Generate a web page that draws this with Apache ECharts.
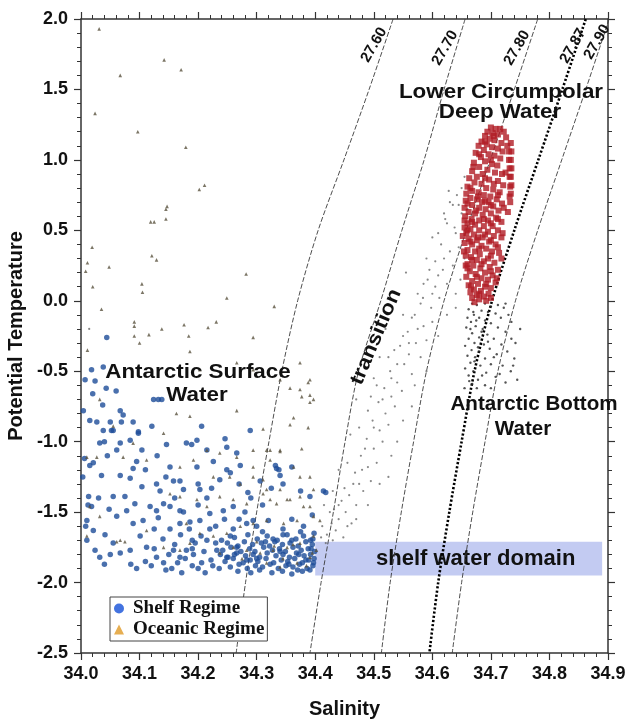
<!DOCTYPE html>
<html>
<head>
<meta charset="utf-8">
<script src="https://cdn.jsdelivr.net/npm/echarts@6/dist/echarts.min.js"></script>
<style>
html,body{margin:0;padding:0;background:#fff;}
#chart{width:627px;height:719px;}
</style>
</head>
<body>
<div id="chart"></div>
<script>
// ---------- data ----------
const xTicks = [34.0, 34.9, 0.1];          // min, max, step (salinity)
const yTicks = [-2.5, 2.0, 0.5];          // min, max, step (potential temperature)

// isopycnal curves: salinity at each temperature level
const isoT    = [2.0, 1.5, 1.0, 0.5, 0.0, -0.5, -1.0, -1.5, -2.0, -2.5];
const iso2760 = [34.533, 34.492, 34.449, 34.405, 34.370, 34.343, 34.321, 34.300, 34.281, 34.265];
const iso2770 = [34.656, 34.620, 34.586, 34.548, 34.512, 34.474, 34.451, 34.431, 34.410, 34.391];
const iso2780 = [34.780, 34.740, 34.699, 34.658, 34.620, 34.590, 34.568, 34.547, 34.528, 34.513];
const iso2787 = [34.862, 34.822, 34.781, 34.740, 34.702, 34.672, 34.650, 34.629, 34.610, 34.595];
const iso2790 = [34.902, 34.862, 34.821, 34.780, 34.742, 34.712, 34.690, 34.669, 34.650, 34.634];
const isoLabels = ['27.60', '27.70', '27.80', '27.87', '27.90'];

// shelf water domain box: [S0, S1, T0, T1]
const shelfBox = [34.40, 34.89, -1.95, -1.71];

const shelfPts = [
[34.018,-0.49],[34.007,-0.56],[34.024,-0.57],[34.038,-0.47],[34.020,-0.66],[34.015,-0.85],[34.037,-0.74],[34.067,-0.78],[34.050,-0.86],[34.055,-0.92],
[34.069,-0.86],[34.089,-0.86],[34.072,-0.81],[34.124,-0.70],[34.132,-0.70],[34.138,-0.70],[34.038,-0.92],[34.052,-0.92],[34.098,-0.93],[34.121,-0.89],
[34.032,-1.01],[34.015,-1.17],[34.021,-1.15],[34.084,-0.99],[34.067,-1.01],[34.061,-1.06],[34.104,-1.06],[34.098,-0.94],[34.146,-1.02],[34.198,-0.99],
[34.180,-1.01],[34.189,-1.02],[34.206,-0.89],[34.246,-0.98],[34.289,-0.92],[34.215,-1.06],[34.226,-1.14],[34.249,-1.04],[34.266,-1.08],[34.013,-1.39],
[34.018,-1.46],[34.035,-1.24],[34.067,-1.24],[34.084,-1.26],[34.089,-1.19],[34.104,-1.32],[34.129,-1.30],[34.152,-1.18],[34.158,-1.28],[34.135,-1.35],
[34.169,-1.28],[34.175,-1.34],[34.198,-1.18],[34.200,-1.30],[34.203,-1.34],[34.223,-1.33],[34.237,-1.27],[34.249,-1.20],[34.272,-1.17],[34.306,-1.28],
[34.334,-1.19],[34.340,-1.24],[34.055,-1.39],[34.075,-1.39],[34.078,-1.49],[34.092,-1.44],[34.118,-1.46],[34.129,-1.49],[34.141,-1.44],[34.152,-1.46],
[34.169,-1.49],[34.010,-1.56],[34.021,-1.63],[34.041,-1.66],[34.061,-1.53],[34.089,-1.58],[34.106,-1.56],[34.132,-1.54],[34.152,-1.62],[34.169,-1.58],
[34.186,-1.57],[34.203,-1.56],[34.220,-1.51],[34.243,-1.49],[34.260,-1.46],[34.283,-1.58],[34.294,-1.56],[34.414,-1.35],[34.391,-1.39],[34.010,-1.70],
[34.024,-1.77],[34.032,-1.82],[34.055,-1.72],[34.067,-1.79],[34.084,-1.77],[34.101,-1.67],[34.112,-1.75],[34.129,-1.82],[34.141,-1.86],[34.158,-1.77],
[34.169,-1.82],[34.180,-1.77],[34.195,-1.72],[34.206,-1.86],[34.215,-1.70],[34.232,-1.77],[34.249,-1.82],[34.266,-1.75],
[34.004,-0.78],[34.006,-1.12],[34.003,-1.25],[34.008,-1.60],[34.012,-1.45],[34.030,-1.40],[34.045,-1.10],[34.048,-1.48],[34.050,-1.80],[34.040,-1.87],
[34.085,-1.87],[34.095,-1.90],[34.120,-1.88],[34.155,-1.90],[34.172,-1.93],[34.190,-1.88],[34.043,-0.62],[34.060,-0.64],[34.027,-0.86],[34.040,-1.00],
[34.095,-1.14],[34.110,-1.20],[34.130,-1.10],[34.145,-1.25],[34.160,-1.40],[34.175,-1.50],[34.185,-1.62],[34.200,-1.45],[34.215,-1.40],[34.230,-1.60],
[34.245,-1.55],[34.255,-1.67],[34.225,-1.88],[34.240,-1.70],[34.260,-1.62],[34.280,-1.50],[34.290,-1.40],[34.310,-1.45],[34.325,-1.33],[34.345,-1.30],
[34.360,-1.18],[34.375,-1.35],[34.044,-0.26],[34.255,-1.22],[34.270,-1.30],[34.285,-1.36],[34.332,-1.17],[34.338,-1.20],[34.418,-1.36],[34.300,-1.60],
[34.320,-1.56],[34.345,-1.62],[34.360,-1.55],[34.380,-1.60],[34.395,-1.52],[34.270,-1.55],[34.220,-1.62],[34.190,-1.70],[34.160,-1.73],[34.140,-1.69],
[34.125,-1.62],
[34.262,-1.68],[34.285,-1.66],[34.301,-1.69],[34.318,-1.67],[34.335,-1.70],[34.352,-1.66],[34.367,-1.69],[34.380,-1.67],[34.392,-1.70],[34.398,-1.65],
[34.310,-1.64],[34.375,-1.64],[34.250,-1.72],[34.268,-1.74],[34.279,-1.71],[34.293,-1.73],[34.308,-1.72],[34.322,-1.74],[34.331,-1.71],[34.344,-1.73],
[34.357,-1.72],[34.371,-1.74],[34.384,-1.71],[34.395,-1.73],[34.242,-1.77],[34.256,-1.75],[34.273,-1.78],[34.288,-1.76],[34.297,-1.78],[34.312,-1.75],
[34.327,-1.77],[34.339,-1.76],[34.349,-1.78],[34.362,-1.75],[34.376,-1.77],[34.388,-1.76],[34.399,-1.78],[34.238,-1.80],[34.251,-1.82],[34.266,-1.79],
[34.281,-1.81],[34.294,-1.80],[34.305,-1.82],[34.318,-1.79],[34.333,-1.81],[34.345,-1.80],[34.356,-1.82],[34.368,-1.79],[34.381,-1.81],[34.392,-1.80],
[34.398,-1.83],[34.246,-1.85],[34.260,-1.83],[34.277,-1.86],[34.289,-1.84],[34.302,-1.85],[34.316,-1.83],[34.329,-1.86],[34.342,-1.84],[34.353,-1.85],
[34.365,-1.83],[34.378,-1.86],[34.389,-1.84],[34.397,-1.86],[34.255,-1.89],[34.270,-1.87],[34.284,-1.90],[34.298,-1.88],[34.310,-1.89],[34.323,-1.87],
[34.337,-1.90],[34.350,-1.88],[34.362,-1.89],[34.373,-1.87],[34.386,-1.90],[34.396,-1.88],[34.268,-1.92],[34.290,-1.93],[34.305,-1.91],[34.326,-1.93],
[34.344,-1.92],[34.360,-1.94],[34.378,-1.92],[34.391,-1.91],[34.315,-1.71],[34.340,-1.78],[34.360,-1.70],[34.384,-1.84],[34.300,-1.83],[34.355,-1.87],
[34.328,-1.69],[34.372,-1.80],[34.393,-1.76],[34.345,-1.66],[34.283,-1.84],[34.262,-1.80],[34.396,-1.69],[34.370,-1.91],
[34.150,-1.80],[34.165,-1.86],[34.178,-1.83],[34.192,-1.80],[34.200,-1.90],[34.210,-1.78],[34.222,-1.84],[34.230,-1.72],[34.145,-1.91],[34.212,-1.93],
[34.236,-1.90],[34.190,-1.76],[34.205,-1.67],[34.170,-1.66],[34.110,-1.85],[34.125,-1.76]
];

const oceanicPts = [
[34.031,1.93],[34.067,1.60],[34.142,1.71],[34.171,1.64],[34.024,1.33],[34.097,1.20],[34.179,1.09],[34.202,0.79],[34.211,0.82],[34.145,0.65],
[34.147,0.67],[34.145,0.58],[34.119,0.56],[34.125,0.56],[34.019,0.38],[34.011,0.27],[34.008,0.21],[34.048,0.24],[34.121,0.32],[34.129,0.29],
[34.020,0.10],[34.104,0.12],[34.105,0.06],[34.282,0.19],[34.249,0.02],[34.330,-0.04],[34.035,-0.06],[34.091,-0.15],[34.091,-0.18],[34.176,-0.17],
[34.231,-0.15],[34.217,-0.19],[34.138,-0.20],[34.116,-0.24],[34.091,-0.25],[34.184,-0.25],[34.100,-0.30],[34.294,-0.26],[34.011,-0.35],[34.186,-0.36],
[34.010,-1.11],[34.027,-1.11],[34.072,-1.11],[34.112,-1.13],[34.169,-1.18],[34.192,-1.13],[34.215,-1.06],[34.237,-1.08],[34.266,-1.11],[34.294,-1.06],
[34.317,-1.06],[34.340,-1.06],[34.323,-1.13],[34.363,-1.18],[34.374,-1.25],[34.397,-1.34],[34.340,-1.34],[34.311,-1.37],[34.283,-1.44],[34.260,-1.41],
[34.237,-1.39],[34.215,-1.46],[34.198,-1.41],[34.169,-1.39],[34.152,-1.37],[34.067,-1.70],[34.075,-1.71],[34.061,-1.71],[34.141,-1.75],[34.169,-1.77],
[34.186,-1.72],[34.112,-1.63],[34.015,-1.46],[34.010,-1.67],[34.032,-1.53],[34.089,-1.01],[34.141,-0.94],[34.186,-0.82],[34.266,-0.78],[34.311,-0.91],
[34.363,-0.83],[34.391,-0.67],[34.397,-0.70],[34.374,-0.63],[34.340,-0.56],[34.294,-0.49],[34.266,-0.44],[34.203,-0.49],[34.163,-0.80],[34.055,-0.89],
[34.032,-0.70],[34.226,-1.25],[34.254,-1.25],[34.272,-1.30],[34.294,-1.25],[34.317,-1.34],[34.334,-1.44],[34.357,-1.41],[34.380,-1.46],[34.397,-1.53],
[34.369,-1.56],[34.346,-1.58],[34.317,-1.56],[34.294,-1.58],[34.272,-1.60],[34.249,-1.65],[34.226,-1.67],[34.203,-1.65],[34.180,-1.58],[34.397,-1.67],
[34.374,-1.72],[34.352,-1.75],[34.328,-1.77],[34.306,-1.79],[34.283,-1.77],[34.260,-1.75],[34.237,-1.79],[34.391,-1.82],[34.369,-1.86],[34.340,-1.89],
[34.317,-1.86],[34.402,-1.77],[34.388,-0.58],[34.377,-0.68],[34.391,-0.72],[34.357,-0.62],[34.374,-0.44],[34.391,-0.56],[34.357,-0.88],[34.388,-0.90],
[34.323,-1.06],[34.340,-1.07],[34.377,-1.05],[34.391,-1.25],[34.294,-1.18],[34.311,-1.27],[34.323,-1.41],[34.352,-1.41],[34.374,-1.39],[34.391,-1.46],
[34.408,-1.56],[34.300,-1.71],[34.345,-1.83],[34.362,-1.73],[34.385,-1.88],[34.330,-1.74],[34.275,-1.83],[34.395,-1.79]
];

const transitionPts = [
[34.412,-1.60],[34.420,-1.66],[34.428,-1.58],[34.418,-1.72],[34.435,-1.63],[34.440,-1.55],[34.432,-1.48],[34.448,-1.68],[34.452,-1.50],[34.445,-1.42],
[34.462,-1.58],[34.458,-1.38],[34.470,-1.45],[34.475,-1.30],[34.468,-1.22],[34.482,-1.35],[34.490,-1.18],[34.478,-1.10],[34.495,-1.28],[34.500,-1.05],
[34.488,-0.98],[34.505,-1.15],[34.510,-0.92],[34.498,-0.85],[34.515,-1.00],[34.520,-0.80],[34.508,-0.72],[34.525,-0.88],[34.490,-0.78],[34.530,-0.68],
[34.518,-0.62],[34.536,-0.75],[34.540,-0.58],[34.528,-0.50],[34.548,-0.64],[34.552,-0.45],[34.500,-0.55],[34.510,-0.40],[34.560,-0.38],[34.545,-0.32],
[34.565,-0.52],[34.572,-0.30],[34.558,-0.22],[34.580,-0.40],[34.585,-0.18],[34.570,-0.10],[34.590,-0.28],[34.598,-0.05],[34.584,0.02],[34.600,-0.15],
[34.605,0.10],[34.592,0.15],[34.612,0.02],[34.618,0.22],[34.605,0.28],[34.625,0.12],[34.630,0.35],[34.615,0.40],[34.635,0.25],[34.640,0.48],
[34.625,0.55],[34.645,0.38],[34.650,0.62],[34.635,0.68],[34.642,0.75],[34.628,0.78],[34.655,0.50],[34.620,0.62],[34.648,0.15],[34.640,-0.05],
[34.600,0.45],[34.575,0.05],[34.550,-0.10],[34.535,-0.35],[34.520,-0.20],[34.470,-0.70],[34.460,-0.95],[34.440,-1.20],[34.430,-1.35],[34.565,-0.75],
[34.540,-1.00],[34.525,-1.25],[34.555,0.20],[34.590,0.30],[34.014,-0.20],
[34.630,0.70],[34.645,0.68],[34.622,0.58],[34.638,0.52],[34.610,0.48],[34.620,0.30],[34.595,0.22],[34.610,0.18],[34.585,0.12],[34.600,0.05],
[34.580,-0.02],[34.565,-0.12],[34.575,-0.20],[34.550,-0.25],[34.560,-0.30],[34.540,-0.45],[34.525,-0.40],[34.530,-0.55],[34.515,-0.70],[34.505,-0.60],
[34.495,-0.68],[34.500,-0.90],[34.485,-1.05],[34.475,-0.90],[34.480,-1.20],[34.465,-1.30],[34.455,-1.15],[34.450,-1.33],[34.440,-1.45],[34.425,-1.50],
[34.415,-1.45],[34.430,-1.70],[34.410,-1.68],[34.455,-1.60],[34.470,-1.55],[34.490,-1.45],[34.510,-1.30],[34.530,-1.10],[34.550,-0.85],[34.570,-0.60],
[34.590,-0.50],[34.610,-0.25],[34.625,-0.10],[34.640,0.05],[34.655,0.30],[34.660,0.65],[34.650,0.80],[34.655,0.88]
];

const bottomPts = [
[34.668,-0.02],[34.676,-0.03],[34.690,-0.02],[34.700,-0.04],[34.712,-0.03],[34.722,-0.05],[34.662,-0.06],[34.684,-0.07],[34.695,-0.08],[34.708,-0.09],
[34.671,-0.10],[34.660,-0.12],[34.680,-0.12],[34.717,-0.12],[34.730,-0.10],[34.690,-0.14],[34.666,-0.15],[34.700,-0.16],[34.674,-0.18],[34.658,-0.19],
[34.712,-0.19],[34.686,-0.20],[34.725,-0.22],[34.668,-0.23],[34.694,-0.24],[34.680,-0.26],[34.662,-0.27],[34.705,-0.27],[34.735,-0.27],[34.672,-0.30],
[34.688,-0.31],[34.718,-0.31],[34.656,-0.32],[34.698,-0.34],[34.667,-0.35],[34.680,-0.36],[34.728,-0.36],[34.710,-0.38],[34.660,-0.39],[34.673,-0.40],
[34.690,-0.41],[34.740,-0.41],[34.665,-0.44],[34.700,-0.45],[34.682,-0.46],[34.720,-0.46],[34.656,-0.48],[34.670,-0.50],[34.692,-0.51],[34.734,-0.50],
[34.662,-0.53],[34.708,-0.54],[34.678,-0.56],[34.668,-0.59],[34.690,-0.60],[34.655,-0.62],[34.745,-0.56],[34.738,-0.46],
[34.670,-0.08],[34.675,-0.14],[34.665,-0.20],[34.678,-0.33],[34.672,-0.43],[34.685,-0.53],[34.663,-0.57],[34.676,-0.62],[34.684,-0.22],[34.695,-0.29],
[34.705,-0.40],[34.715,-0.52],[34.725,-0.58],[34.700,-0.62],[34.742,-0.30],[34.750,-0.20],[34.735,-0.15],[34.725,-0.02]
];

const lcdwPts = [
[34.700,1.23],[34.708,1.22],[34.716,1.22],[34.694,1.20],[34.722,1.20],[34.703,1.19],[34.712,1.18],[34.690,1.17],[34.726,1.16],[34.698,1.15],
[34.706,1.14],[34.684,1.13],[34.718,1.12],[34.693,1.11],[34.728,1.10],[34.679,1.10],[34.702,1.09],[34.712,1.08],[34.688,1.07],[34.731,1.06],
[34.674,1.05],[34.696,1.04],[34.706,1.03],[34.683,1.02],[34.716,1.01],[34.731,1.00],[34.690,0.99],[34.671,0.98],[34.702,0.97],[34.711,0.96],
[34.680,0.95],[34.732,0.94],[34.694,0.93],[34.668,0.92],[34.707,0.91],[34.719,0.90],[34.686,0.90],[34.676,0.88],[34.732,0.88],[34.663,0.87],
[34.697,0.86],[34.712,0.85],[34.672,0.84],[34.684,0.83],[34.721,0.82],[34.660,0.81],[34.733,0.81],[34.692,0.80],[34.704,0.79],[34.668,0.78],
[34.679,0.77],[34.715,0.77],[34.658,0.76],[34.688,0.75],[34.699,0.74],[34.732,0.74],[34.665,0.73],[34.676,0.72],[34.710,0.72],[34.657,0.71],
[34.685,0.70],[34.696,0.70],[34.719,0.69],[34.668,0.68],[34.704,0.67],[34.655,0.66],[34.680,0.66],[34.691,0.65],[34.713,0.64],[34.662,0.63],
[34.673,0.62],[34.700,0.62],[34.729,0.63],[34.686,0.61],[34.656,0.60],[34.709,0.59],[34.667,0.58],[34.680,0.57],[34.695,0.57],[34.718,0.56],
[34.660,0.55],[34.673,0.54],[34.688,0.53],[34.703,0.53],[34.655,0.52],[34.665,0.51],[34.712,0.50],[34.680,0.50],[34.695,0.49],[34.658,0.48],
[34.671,0.47],[34.705,0.46],[34.686,0.45],[34.718,0.45],[34.662,0.44],[34.676,0.43],[34.697,0.42],[34.655,0.41],[34.668,0.40],[34.708,0.40],
[34.684,0.39],[34.692,0.37],[34.660,0.36],[34.673,0.35],[34.702,0.35],[34.714,0.34],[34.681,0.33],[34.657,0.32],[34.666,0.31],[34.695,0.30],
[34.676,0.29],[34.688,0.28],[34.706,0.27],[34.660,0.26],[34.670,0.25],[34.698,0.24],[34.682,0.23],[34.712,0.22],[34.664,0.21],[34.690,0.20],
[34.674,0.19],[34.703,0.18],[34.658,0.17],[34.684,0.16],[34.695,0.15],[34.668,0.14],[34.708,0.13],[34.678,0.12],[34.662,0.11],[34.690,0.10],
[34.700,0.09],[34.671,0.08],[34.683,0.07],[34.665,0.06],[34.696,0.05],[34.676,0.04],[34.688,0.03],[34.668,0.02],[34.700,0.02],[34.680,0.01],
[34.705,1.17],[34.690,1.13],[34.720,1.06],[34.680,1.04],[34.700,1.00],[34.670,0.95],[34.725,0.91],[34.690,0.87],[34.705,0.83],[34.665,0.80],
[34.678,0.74],[34.712,0.75],[34.690,0.71],[34.660,0.69],[34.700,0.68],[34.675,0.64],[34.688,0.58],[34.668,0.56],[34.700,0.55],[34.712,0.58],
[34.660,0.50],[34.690,0.47],[34.678,0.45],[34.700,0.43],[34.665,0.42],[34.712,0.38],[34.680,0.37],[34.700,0.32],[34.668,0.29],[34.684,0.26],
[34.660,0.23],[34.700,0.21],[34.676,0.17],[34.692,0.12],[34.710,0.16],[34.666,0.10],[34.680,0.05],[34.692,0.00],[34.672,-0.01],[34.718,0.30],
[34.720,0.48],[34.722,0.66],[34.655,0.57],[34.652,0.46],[34.654,0.35],[34.657,0.25],
[34.734,1.12],[34.735,1.06],[34.734,1.00],[34.735,0.94],[34.734,0.88],[34.735,0.82],[34.734,0.76],[34.733,0.70]
];

// ---------- chart ----------
const FONT = '"Liberation Sans", Arial, Helvetica, sans-serif';
const chart = echarts.init(document.getElementById('chart'), null, {renderer: 'canvas'});

function isoSeries(name, arr, dotted) {
  return {
    name: name, type: 'line', xAxisIndex: 0, yAxisIndex: 0,
    data: isoT.map((t, i) => [arr[i], t]),
    smooth: 0.3, showSymbol: false, clip: true, silent: true, z: 1,
    lineStyle: dotted
      ? {color: '#000', width: 2.6, type: [2.2, 2.0], cap: 'butt'}
      : {color: '#3a3a3a', width: 0.9, type: [5, 2]}
  };
}

const axisCommon = {
  axisLine: {show: true, onZero: false, lineStyle: {color: '#333', width: 1.5}},
  axisTick: {show: true, inside: false, length: 7, lineStyle: {color: '#333', width: 1.2}},
  minorTick: {show: true, splitNumber: 5, length: 4, lineStyle: {color: '#333', width: 1}},
  splitLine: {show: false}
};

function annot(text, x, y, sx, rot) {
  return {type: 'text', x: x, y: y, rotation: (rot || 0) * Math.PI / 180, scaleX: sx, z: 20,
    style: {text: text, fontFamily: FONT, fontWeight: 'bold', fontSize: 20, fill: '#111',
      align: 'center', verticalAlign: 'middle'}};
}
function isoLabel(text, x, y) {
  return {type: 'text', x: x, y: y, rotation: 60 * Math.PI / 180, z: 20,
    style: {text: text, fontFamily: FONT, fontWeight: 'bold', fontSize: 15, fill: '#111', align: 'center', verticalAlign: 'middle'}};
}

const option = {
  backgroundColor: '#fff',
  animation: false,
  grid: {left: 81, right: 19, top: 19, bottom: 66, containLabel: false, outerBoundsMode: 'none'},
  xAxis: [
    Object.assign({
      type: 'value', position: 'bottom', min: xTicks[0], max: xTicks[1], interval: xTicks[2],
      name: 'Salinity', nameLocation: 'middle', nameGap: 46,
      nameTextStyle: {fontFamily: FONT, fontWeight: 'bold', fontSize: 20, color: '#111'},
      axisLabel: {margin: 12, fontFamily: FONT, fontWeight: 'bold', fontSize: 18, color: '#111',
        formatter: v => v.toFixed(1)}
    }, axisCommon),
    Object.assign({
      type: 'value', position: 'top', min: xTicks[0], max: xTicks[1], interval: xTicks[2],
      axisLabel: {show: false}
    }, axisCommon)
  ],
  yAxis: [
    Object.assign({
      type: 'value', position: 'left', min: yTicks[0], max: yTicks[1], interval: yTicks[2],
      name: 'Potential Temperature', nameLocation: 'middle', nameGap: 49, nameRotate: 90,
      nameTextStyle: {fontFamily: FONT, fontWeight: 'bold', fontSize: 20, color: '#111'},
      axisLabel: {margin: 13, fontFamily: FONT, fontWeight: 'bold', fontSize: 18, color: '#111',
        formatter: v => v.toFixed(1)}
    }, axisCommon),
    Object.assign({
      type: 'value', position: 'right', min: yTicks[0], max: yTicks[1], interval: yTicks[2],
      axisLabel: {show: false}
    }, axisCommon)
  ],
  legend: {
    orient: 'vertical', left: 110, top: 597,
    data: [
      {name: 'Shelf Regime', icon: 'circle', itemStyle: {color: '#1450d8'}},
      {name: 'Oceanic Regime', icon: 'triangle', itemStyle: {color: '#e09a26'}}
    ],
    itemWidth: 10, itemHeight: 10, itemGap: 2,
    padding: [2, 3, 2, 4],
    borderColor: '#444', borderWidth: 1, backgroundColor: '#fff',
    textStyle: {fontFamily: '"Liberation Serif", "Times New Roman", serif', fontWeight: 'bold', fontSize: 19, color: '#111',
      padding: [0, 0, 0, 4]}
  },
  series: [
    isoSeries('27.60', iso2760, false),
    isoSeries('27.70', iso2770, false),
    isoSeries('27.80', iso2780, false),
    isoSeries('27.87', iso2787, true),
    isoSeries('27.90', iso2790, false),
    {
      name: 'transition', type: 'scatter', data: transitionPts, symbol: 'circle', symbolSize: 2.2,
      itemStyle: {color: '#6a6a6a'}, z: 3, silent: true,
      markArea: {
        silent: true,
        itemStyle: {color: '#c3cbf2', opacity: 1},
        label: {show: true, position: 'inside', offset: [17, 0], formatter: 'shelf water domain',
          fontFamily: FONT, fontWeight: 'bold', fontSize: 22, color: '#111'},
        data: [[{xAxis: shelfBox[0], yAxis: shelfBox[3]}, {xAxis: shelfBox[1], yAxis: shelfBox[2]}]]
      }
    },
    {
      name: 'Shelf Regime', type: 'scatter', data: shelfPts, symbol: 'circle', symbolSize: 5.5,
      itemStyle: {color: '#1d4c98'}, z: 4, silent: true
    },
    {
      name: 'Oceanic Regime', type: 'scatter', data: oceanicPts, symbol: 'triangle', symbolSize: 3.6,
      itemStyle: {color: '#5a523e'}, z: 5, silent: true
    },
    {
      name: 'bottom', type: 'scatter', data: bottomPts, symbol: 'circle', symbolSize: 2.4,
      itemStyle: {color: '#2a2a2a'}, z: 5, silent: true
    },
    {
      name: 'LCDW', type: 'scatter', data: lcdwPts, symbol: 'rect', symbolSize: 6,
      itemStyle: {color: '#b01c24'}, z: 6, silent: true
    }
  ],
  graphic: [
    isoLabel(isoLabels[0], 374, 45),
    isoLabel(isoLabels[1], 445, 48),
    isoLabel(isoLabels[2], 517, 48),
    isoLabel(isoLabels[3], 573, 46),
    isoLabel(isoLabels[4], 597, 42),
    annot('Lower Circumpolar', 501, 92, 1.12),
    annot('Deep Water', 500, 112, 1.12),
    annot('Antarctic Surface', 198, 372, 1.12),
    annot('Water', 197, 395, 1.12),
    annot('Antarctic Bottom', 534, 404, 1.03),
    annot('Water', 523, 429, 1.03),
    annot('transition', 376, 337, 1.12, 67)
  ]
};
chart.setOption(option);
</script>
</body>
</html>
